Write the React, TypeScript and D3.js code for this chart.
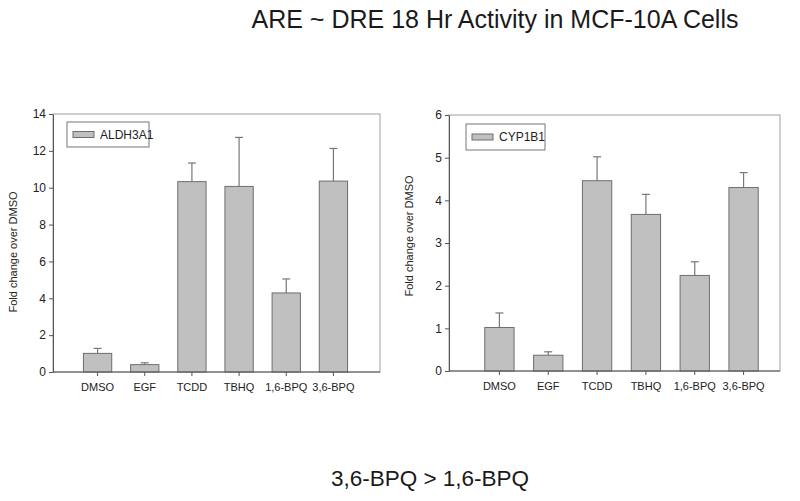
import React, { useEffect, useRef } from 'react'
import * as d3 from 'd3'

const treatments = ['DMSO', 'EGF', 'TCDD', 'TBHQ', '1,6-BPQ', '3,6-BPQ']

const aldhMean = [1.01, 0.4, 10.33, 10.07, 4.29, 10.36]
const aldhErr = [0.27, 0.1, 1.01, 2.66, 0.76, 1.77]

const cypMean = [1.02, 0.37, 4.46, 3.67, 2.24, 4.3]
const cypErr = [0.34, 0.08, 0.56, 0.47, 0.32, 0.35]

const aldhTicks = [0, 2, 4, 6, 8, 10, 12, 14]
const cypTicks = [0, 1, 2, 3, 4, 5, 6]

type Panel = {
  name: string
  mean: number[]
  err: number[]
  ticks: number[]
  yMax: number
  axisX: number
  frameRight: number
  top: number
  bottom: number
  bandStart: number
  bandEnd: number
  labelX: number
  labelY: number
  legend: { x: number; y: number; w: number; h: number }
}

const panels: Panel[] = [
  {
    name: 'ALDH3A1',
    mean: aldhMean,
    err: aldhErr,
    ticks: aldhTicks,
    yMax: 14,
    axisX: 53,
    frameRight: 380,
    top: 114,
    bottom: 372,
    bandStart: 74,
    bandEnd: 357,
    labelX: 17,
    labelY: 252,
    legend: { x: 67, y: 122, w: 82, h: 25 },
  },
  {
    name: 'CYP1B1',
    mean: cypMean,
    err: cypErr,
    ticks: cypTicks,
    yMax: 6,
    axisX: 449,
    frameRight: 780,
    top: 115,
    bottom: 371,
    bandStart: 475,
    bandEnd: 768,
    labelX: 413,
    labelY: 236,
    legend: { x: 466, y: 124, w: 79, h: 26 },
  },
]

const font = 'Liberation Sans, Arial, sans-serif'

export default function App(): React.ReactElement {
  const chartRef = useRef<HTMLDivElement>(null)

  useEffect(() => {
    const width = 800
    const height = 501

    d3.select(chartRef.current).select('svg').remove()

    const svg = d3
      .select(chartRef.current)
      .append('svg')
      .attr('width', width)
      .attr('height', height)
      .attr('viewBox', `0 0 ${width} ${height}`)
      .style('font-family', font)
      .style('background', '#fff')

    svg
      .append('text')
      .attr('x', 495)
      .attr('y', 28)
      .attr('text-anchor', 'middle')
      .attr('font-size', 25)
      .attr('fill', '#1a1a1a')
      .text('ARE ~ DRE 18 Hr Activity in MCF-10A Cells')

    svg
      .append('text')
      .attr('x', 430)
      .attr('y', 486)
      .attr('text-anchor', 'middle')
      .attr('font-size', 22.5)
      .attr('fill', '#1a1a1a')
      .text('3,6-BPQ > 1,6-BPQ')

    panels.forEach((p) => {
      const g = svg.append('g')

      const x = d3
        .scaleBand()
        .domain(treatments)
        .range([p.bandStart, p.bandEnd])
        .paddingInner(0.4)
        .paddingOuter(0.2)

      const y = d3.scaleLinear().domain([0, p.yMax]).range([p.bottom, p.top])

      // plot frame
      g.append('rect')
        .attr('x', p.axisX)
        .attr('y', p.top)
        .attr('width', p.frameRight - p.axisX)
        .attr('height', p.bottom - p.top)
        .attr('fill', 'none')
        .attr('stroke', '#a0a0a0')
        .attr('stroke-width', 1)

      // error bars (upper only)
      const eb = g
        .append('g')
        .attr('stroke', '#777')
        .attr('stroke-width', 1.2)
        .selectAll('g')
        .data(treatments)
        .join('g')
      eb.append('line')
        .attr('x1', (d) => x(d)! + x.bandwidth() / 2)
        .attr('x2', (d) => x(d)! + x.bandwidth() / 2)
        .attr('y1', (d, i) => y(p.mean[i]))
        .attr('y2', (d, i) => y(p.mean[i] + p.err[i]))
      eb.append('line')
        .attr('x1', (d) => x(d)! + x.bandwidth() / 2 - 4)
        .attr('x2', (d) => x(d)! + x.bandwidth() / 2 + 4)
        .attr('y1', (d, i) => y(p.mean[i] + p.err[i]))
        .attr('y2', (d, i) => y(p.mean[i] + p.err[i]))

      // bars
      g.append('g')
        .attr('fill', '#c0c0c0')
        .attr('stroke', '#6e6e6e')
        .attr('stroke-width', 1)
        .selectAll('rect')
        .data(treatments)
        .join('rect')
        .attr('x', (d) => x(d)!)
        .attr('y', (d, i) => y(p.mean[i]))
        .attr('width', x.bandwidth())
        .attr('height', (d, i) => y(0) - y(p.mean[i]))

      // y axis
      g.append('g')
        .attr('transform', `translate(${p.axisX},0)`)
        .call(
          d3
            .axisLeft(y)
            .tickValues(p.ticks)
            .tickFormat(d3.format('d'))
            .tickSize(4)
            .tickPadding(3)
            .tickSizeOuter(0)
        )
        .call((a) => a.selectAll('line,path').attr('stroke', '#555'))
        .call((a) => a.selectAll('text').attr('font-size', 12).attr('fill', '#222').attr('font-family', font))

      // x axis
      g.append('g')
        .attr('transform', `translate(0,${p.bottom})`)
        .call(d3.axisBottom(x).tickSize(4).tickPadding(7).tickSizeOuter(0))
        .call((a) => a.select('.domain').remove())
        .call((a) => a.selectAll('line').attr('stroke', '#555'))
        .call((a) => a.selectAll('text').attr('font-size', 11).attr('fill', '#222').attr('font-family', font))

      g.append('line')
        .attr('x1', p.axisX)
        .attr('x2', p.frameRight)
        .attr('y1', p.bottom)
        .attr('y2', p.bottom)
        .attr('stroke', '#555')

      // y label
      g.append('text')
        .attr('transform', `translate(${p.labelX},${p.labelY}) rotate(-90)`)
        .attr('text-anchor', 'middle')
        .attr('font-size', 11)
        .attr('fill', '#222')
        .text('Fold change over DMSO')

      // legend
      const lg = g.append('g').attr('transform', `translate(${p.legend.x},${p.legend.y})`)
      lg.append('rect')
        .attr('width', p.legend.w)
        .attr('height', p.legend.h)
        .attr('fill', '#fff')
        .attr('stroke', '#777')
      lg.append('rect')
        .attr('x', 6)
        .attr('y', p.legend.h / 2 - 3)
        .attr('width', 21)
        .attr('height', 6)
        .attr('fill', '#c0c0c0')
        .attr('stroke', '#6e6e6e')
      lg.append('text')
        .attr('x', 33)
        .attr('y', p.legend.h / 2 + 4)
        .attr('font-size', 12)
        .attr('fill', '#222')
        .text(p.name)
    })
  }, [])

  return <div ref={chartRef} style={{ position: 'absolute', left: 0, top: 0 }}></div>
}
